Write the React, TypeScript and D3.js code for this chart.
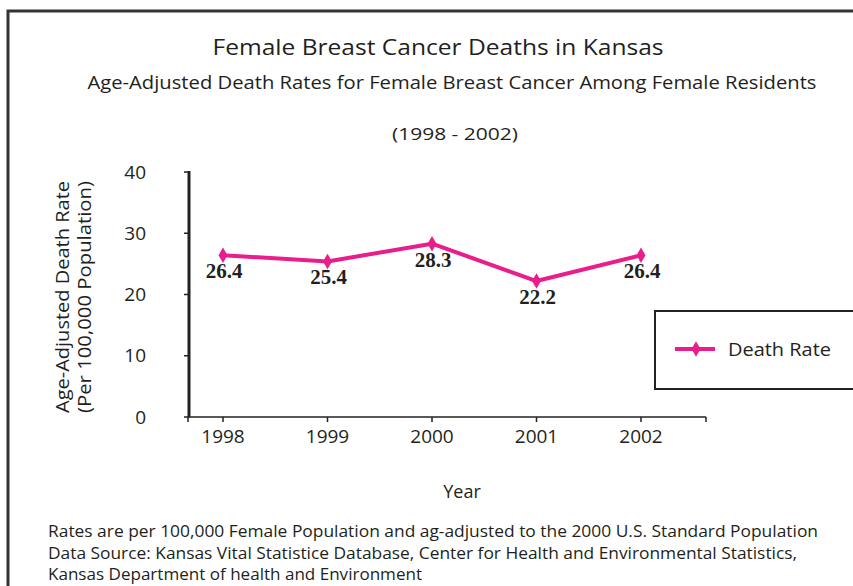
import React from "react";
import * as d3 from "d3";

const years = ["1998", "1999", "2000", "2001", "2002"];
const deathRates = [26.4, 25.4, 28.3, 22.2, 26.4];
const yTicks = [0, 10, 20, 30, 40];
const seriesName = "Death Rate";
const title = "Female Breast Cancer Deaths in Kansas";
const subtitle = "Age-Adjusted Death Rates for Female Breast Cancer Among Female Residents";
const period = "(1998 - 2002)";
const yTitle = ["Age-Adjusted Death Rate", "(Per 100,000 Population)"];
const xTitle = "Year";
const notes = [
  "Rates are per 100,000 Female Population and ag-adjusted to the 2000 U.S. Standard Population",
  "Data Source: Kansas Vital Statistice Database, Center for Health and Environmental Statistics,",
  "Kansas Department of health and Environment",
];
const noteWidths = [770, 749, 374];

const W = 853;
const H = 586;
const PINK = "#e91e8c";
const TEXT = "#231f20";
const FONT = "'Open Sans', 'DejaVu Sans', sans-serif";

export default function App() {
  const x = d3.scalePoint<string>().domain(years).range([223, 641]);
  const y = d3.scaleLinear().domain([0, 40]).range([417, 172]);
  const axisLeft = 189;
  const axisRight = 706;
  const line = d3
    .line<number>()
    .x((_, i) => x(years[i]) as number)
    .y((d) => y(d));
  const diamond = d3.symbol().type(d3.symbolDiamond).size(70)() as string;

  return (
    <svg
      width={W}
      height={H}
      style={{ position: "absolute", left: 0, top: 0, background: "#fff" }}
    >
      {/* outer border */}
      <path d={`M8,${H + 5} L8,11 L${W + 5},11`} fill="none" stroke="#333" strokeWidth={3} />

      {/* titles */}
      <text x={438} y={55} textAnchor="middle" fontFamily={FONT} fontSize={22} fill={TEXT} textLength={451} lengthAdjust="spacingAndGlyphs">
        {title}
      </text>
      <text x={452} y={89} textAnchor="middle" fontFamily={FONT} fontSize={18} fill={TEXT} textLength={729} lengthAdjust="spacingAndGlyphs">
        {subtitle}
      </text>
      <text x={455} y={140} textAnchor="middle" fontFamily={FONT} fontSize={17} fill={TEXT} textLength={126} lengthAdjust="spacingAndGlyphs">
        {period}
      </text>

      {/* y axis */}
      <line x1={axisLeft} x2={axisLeft} y1={y(40) - 1} y2={y(0)} stroke="#222" strokeWidth={3} />
      {yTicks.map((t) => (
        <g key={t}>
          <line x1={axisLeft - 5} x2={axisLeft} y1={y(t)} y2={y(t)} stroke="#222" strokeWidth={1.5} />
          <text x={146} y={y(t)} dy="0.35em" textAnchor="end" fontFamily={FONT} fontSize={19} fill={TEXT}>
            {t}
          </text>
        </g>
      ))}

      {/* x axis */}
      <line x1={axisLeft - 1} x2={axisRight} y1={y(0)} y2={y(0)} stroke="#222" strokeWidth={1.5} />
      {[axisLeft - 1, ...years.map((yr) => x(yr) as number), axisRight].map((px, i) => (
        <line key={i} x1={px} x2={px} y1={y(0)} y2={y(0) + 5} stroke="#222" strokeWidth={1.5} />
      ))}
      {years.map((yr) => (
        <text key={yr} x={x(yr) as number} y={443} textAnchor="middle" fontFamily={FONT} fontSize={19} fill={TEXT}>
          {yr}
        </text>
      ))}
      <text x={462} y={498} textAnchor="middle" fontFamily={FONT} fontSize={18} fill={TEXT}>
        {xTitle}
      </text>

      {/* y title */}
      <g transform="translate(0,297) rotate(-90)">
        <text x={0} y={69} textAnchor="middle" fontFamily={FONT} fontSize={18} fill={TEXT} textLength={232} lengthAdjust="spacingAndGlyphs">
          {yTitle[0]}
        </text>
        <text x={0} y={91} textAnchor="middle" fontFamily={FONT} fontSize={18} fill={TEXT} textLength={232} lengthAdjust="spacingAndGlyphs">
          {yTitle[1]}
        </text>
      </g>

      {/* series */}
      <path d={line(deathRates) as string} fill="none" stroke={PINK} strokeWidth={4} strokeLinejoin="round" />
      {deathRates.map((v, i) => (
        <path key={i} d={diamond} transform={`translate(${x(years[i])},${y(v)})`} fill={PINK} />
      ))}
      {deathRates.map((v, i) => (
        <text
          key={"l" + i}
          x={(x(years[i]) as number) + 1}
          y={y(v) + 23}
          textAnchor="middle"
          fontFamily="'Liberation Serif', 'Times New Roman', serif"
          fontWeight="bold"
          fontSize={21}
          fill={TEXT}
        >
          {v.toFixed(1)}
        </text>
      ))}

      {/* legend */}
      <rect x={655} y={311} width={W} height={78} fill="#fff" stroke="#222" strokeWidth={2} />
      <line x1={675} x2={715} y1={349} y2={349} stroke={PINK} strokeWidth={4} />
      <path d={diamond} transform="translate(696,349)" fill={PINK} />
      <text x={728} y={356} fontFamily={FONT} fontSize={19} fill={TEXT} textLength={103} lengthAdjust="spacingAndGlyphs">
        {seriesName}
      </text>

      {/* notes */}
      {notes.map((n, i) => (
        <text key={i} x={48} y={537 + i * 21.5} fontFamily={FONT} fontSize={16} fill={TEXT} textLength={noteWidths[i]} lengthAdjust="spacingAndGlyphs">
          {n}
        </text>
      ))}
    </svg>
  );
}
